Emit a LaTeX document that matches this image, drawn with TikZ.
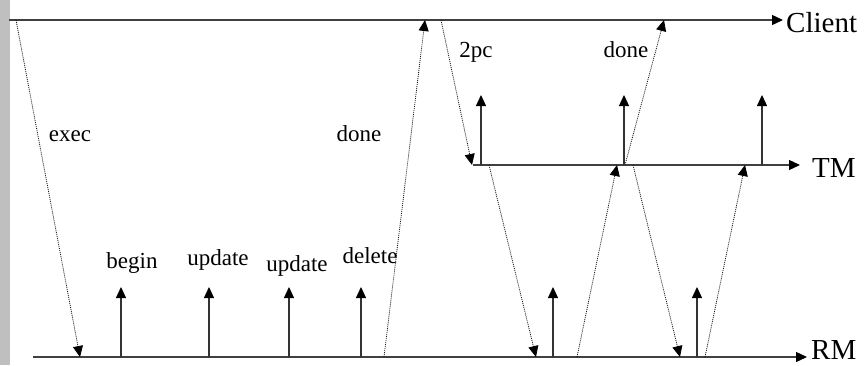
\documentclass[tikz,border=0pt]{standalone}
\usepackage{fontspec}
\setmainfont{Liberation Serif}
\usetikzlibrary{arrows.meta}
\begin{document}
\begin{tikzpicture}[x=1pt,y=-1pt,
  tipa/.tip={Triangle[length=11pt,width=10pt,color=black]},
  axis/.style={draw=black!75,line width=1.3pt,-tipa},
  msg/.style={draw=black!90,line width=0.8pt,dash pattern=on 1pt off 1pt,-tipa},
  evt/.style={draw=black!80,line width=1.2pt,-tipa},
  lbl/.style={font=\fontsize{23}{23}\selectfont,inner sep=0pt,anchor=base},
  big/.style={font=\fontsize{29}{29}\selectfont,inner sep=0pt,anchor=base west}]
\useasboundingbox (0,0) rectangle (868,365);
\fill[gray!50] (0,0) rectangle (10,365);
% lifelines
\coordinate (cs) at (9,20);   \coordinate (ce) at (783,20);
\coordinate (ts) at (473,165); \coordinate (te) at (800,165);
\coordinate (rs) at (33,357);  \coordinate (re) at (807,357);
\draw[axis] (cs) -- (ce);
\draw[axis] (ts) -- (te);
\draw[axis] (rs) -- (re);
\node[big] (client) at (786,32) {Client};
\node[big] (tm) at (812,177) {TM};
\node[big] (rm) at (811,359) {RM};
% message endpoints
\coordinate (a1) at (16,20);  \coordinate (a2) at (80,357);
\coordinate (b1) at (384,357); \coordinate (b2) at (425,20);
\coordinate (c1) at (441,20); \coordinate (c2) at (472,165);
\coordinate (d1) at (489,165); \coordinate (d2) at (536,357);
\coordinate (e1) at (577,357); \coordinate (e2) at (617,165);
\coordinate (f1) at (625,165); \coordinate (f2) at (664,20);
\coordinate (g1) at (633,165); \coordinate (g2) at (680,357);
\coordinate (h1) at (705,357); \coordinate (h2) at (745,165);
\draw[msg] (a1) -- (a2);
\draw[msg] (b1) -- (b2);
\draw[msg] (c1) -- (c2);
\draw[msg] (d1) -- (d2);
\draw[msg] (e1) -- (e2);
\draw[msg] (f1) -- (f2);
\draw[msg] (g1) -- (g2);
\draw[msg] (h1) -- (h2);
% events on RM
\foreach \n/\x in {r1/121,r2/209,r3/289,r4/361,r5/553,r6/697}{
  \coordinate (\n b) at (\x,357); \coordinate (\n t) at (\x,287);
  \draw[evt] (\n b) -- (\n t);}
% events on TM
\foreach \n/\x in {t1/481,t2/624,t3/762}{
  \coordinate (\n b) at (\x,165); \coordinate (\n t) at (\x,95);
  \draw[evt] (\n b) -- (\n t);}
% labels
\node[lbl] (lexec) at (70,141) {exec};
\node[lbl] (ldone1) at (359,141) {done};
\node[lbl] (l2pc) at (476,57) {2pc};
\node[lbl] (ldone2) at (626,57) {done};
\node[lbl] (lbegin) at (132,268) {begin};
\node[lbl] (lupd1) at (218,265) {update};
\node[lbl] (lupd2) at (297,271) {update};
\node[lbl] (ldel) at (370,263) {delete};
\end{tikzpicture}
\end{document}
